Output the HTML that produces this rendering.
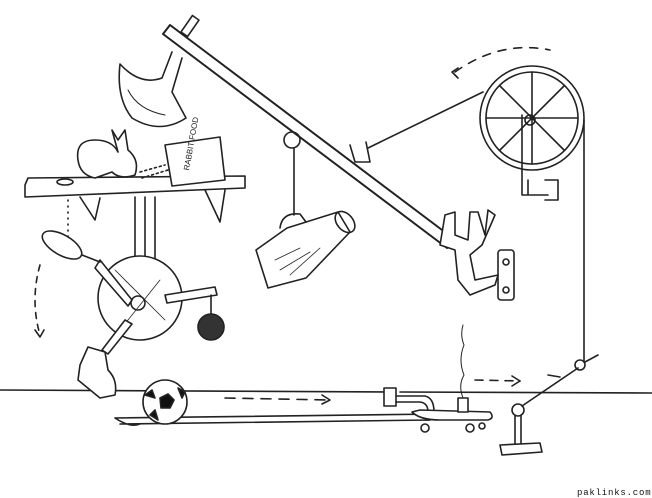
<!DOCTYPE html>
<html><head><style>html,body{margin:0;padding:0;background:#fff;}svg{display:block}</style></head><body>
<svg width="652" height="498" viewBox="0 0 652 498" xmlns="http://www.w3.org/2000/svg" fill="none" stroke="#222" stroke-width="1.6" stroke-linecap="round" stroke-linejoin="round">
<!-- ground -->
<path d="M0 390 L385 392 M400 392 L652 393" />
<!-- trough -->
<path d="M115 418 L440 414 M120 424 L430 420 M115 418 Q130 428 140 424 M440 414 L430 420" />
<!-- axe -->
<path d="M182 58 L172 92 L186 118 Q160 135 132 118 Q116 98 120 64 Q140 86 162 78 L172 52" fill="#fff"/>
<path d="M128 90 Q138 110 165 115" stroke-width="1"/>
<!-- beam -->
<path d="M163 34 L447 248 M170 25 L454 239 M163 34 L170 25" stroke-width="2" fill="#fff"/>
<rect x="186" y="16" width="8" height="20" transform="rotate(35 190 26)" fill="#fff"/>
<!-- pulley loop for pitcher -->
<circle cx="292" cy="140" r="8"/>
<path d="M294 148 L294 215"/>
<!-- clip for string -->
<path d="M350 145 L355 162 L370 162 L366 142" />
<path d="M368 148 L483 92"/>
<!-- pitcher -->
<path d="M256 250 L268 288 L306 278 L350 232 L338 212 L287 228 Z" fill="#fff"/>
<path d="M280 228 Q282 212 300 214 L306 222" />
<ellipse cx="345" cy="222" rx="8" ry="12" transform="rotate(-40 345 222)"/>
<path d="M275 260 L300 248 M280 270 L310 252 M290 275 L320 248" stroke-width="0.8"/>
<!-- hook bracket -->
<path d="M445 215 L440 245 L455 250 L458 280 L470 295 L495 285 L498 275 L475 280 L470 255 L482 245 L495 215 L488 210 L485 235 L478 212 L470 212 L468 240 L455 235 L455 212 Z" fill="#fff"/>
<rect x="498" y="250" width="16" height="50" rx="3"/>
<circle cx="506" cy="262" r="3"/><circle cx="506" cy="290" r="3"/>
<!-- big wheel -->
<circle cx="532" cy="118" r="52"/>
<circle cx="532" cy="118" r="46"/>
<path d="M532 72 L532 164 M486 118 L578 118 M500 86 L564 150 M564 86 L500 150"/>
<circle cx="530" cy="120" r="5"/>
<path d="M522 115 L522 195 L548 195 M528 180 L528 195 M545 180 L558 180 L558 200 L545 200"/>
<path d="M584 120 L584 362"/>
<path d="M455 72 Q500 40 550 50" stroke-dasharray="8 8"/>
<path d="M458 68 L452 72 L458 78"/>
<!-- shelf -->
<path d="M25 185 L28 178 L245 176 L245 188 L25 197 Z" fill="#fff"/>
<path d="M80 197 L95 220 L100 198 M205 190 L220 222 L225 190"/>
<path d="M135 197 L135 290 M145 197 L145 290 M155 197 L155 280"/>
<!-- bunny -->
<path d="M78 160 Q75 140 95 140 Q112 140 118 152 L112 130 L118 140 L125 130 L128 150 Q140 160 135 175 Q120 180 112 172 L95 178 Q80 175 78 160 Z" fill="#fff"/>
<ellipse cx="65" cy="182" rx="8" ry="3"/>
<!-- food bag -->
<path d="M165 145 L220 137 L225 180 L172 186 Z" fill="#fff"/>
<text x="180" y="170" font-family="Liberation Sans, sans-serif" font-size="8" fill="#222" stroke="none" transform="rotate(-80 185 165)">RABBIT FOOD</text>
<path d="M140 172 L165 165 M142 178 L168 170" stroke-dasharray="2 3"/>
<path d="M68 200 L68 250" stroke-dasharray="1 5"/>
<!-- lower wheel -->
<circle cx="140" cy="298" r="42" fill="#fff"/>
<circle cx="138" cy="303" r="7"/>
<path d="M115 270 L165 320 M120 330 L160 280" stroke-width="0.8"/>
<path d="M100 260 L132 300 L128 306 L95 268 Z" fill="#fff"/>
<!-- magnifier -->
<ellipse cx="62" cy="245" rx="22" ry="10" transform="rotate(30 62 245)" fill="#fff"/>
<path d="M82 255 L100 262"/>
<!-- crank arm to weight -->
<path d="M165 295 L215 287 L217 295 L167 303 Z" fill="#fff"/>
<path d="M211 295 L211 314"/>
<circle cx="211" cy="327" r="13" fill="#333"/>
<!-- leg & boot -->
<path d="M125 320 L102 350 L108 354 L132 324 Z" fill="#fff"/>
<path d="M88 347 L105 352 L108 370 Q118 380 115 395 L100 398 L78 380 L80 365 Z" fill="#fff"/>
<path d="M40 265 Q30 300 40 335" stroke-dasharray="6 6"/>
<path d="M35 330 L40 337 L44 330"/>
<!-- ball -->
<circle cx="165" cy="402" r="22" fill="#fff"/>
<path d="M160 398 L168 394 L174 400 L170 408 L161 408 Z" fill="#111"/>
<path d="M145 395 L152 390 L155 398 Z M178 388 L185 392 L182 398 Z M150 415 L158 420 L155 410 Z" fill="#111"/>
<path d="M225 398 L330 400" stroke-dasharray="10 8"/>
<path d="M322 395 L330 400 L322 404"/>
<!-- plunger + skateboard -->
<rect x="384" y="388" width="12" height="18" fill="#fff"/>
<path d="M396 396 L425 396 Q434 398 434 412 L428 412 Q428 403 420 402 L396 402"/>
<path d="M412 412 Q420 420 440 420 L488 420 Q495 418 490 412 L420 410 Z" fill="#fff"/>
<circle cx="425" cy="428" r="4"/><circle cx="470" cy="428" r="4"/><circle cx="482" cy="426" r="3"/>
<rect x="458" y="398" width="10" height="14" fill="#fff"/>
<path d="M463 398 Q458 385 464 375 Q458 360 464 345 Q460 335 463 325" stroke-width="1"/>
<path d="M475 380 L520 381" stroke-dasharray="8 7"/>
<path d="M512 376 L520 381 L512 386"/>
<!-- stand -->
<circle cx="518" cy="410" r="6"/>
<path d="M515 416 L515 445 M521 416 L521 445"/>
<path d="M500 445 L540 443 L542 452 L502 455 Z" fill="#fff"/>
<path d="M522 406 L578 368"/>
<circle cx="580" cy="365" r="5"/>
<path d="M585 362 L598 355 M560 377 L548 375"/>
<text x="577" y="495" font-family="Liberation Mono, monospace" font-size="9" letter-spacing="0.8" fill="#111" stroke="none">paklinks.com</text>
</svg>
</body></html>
